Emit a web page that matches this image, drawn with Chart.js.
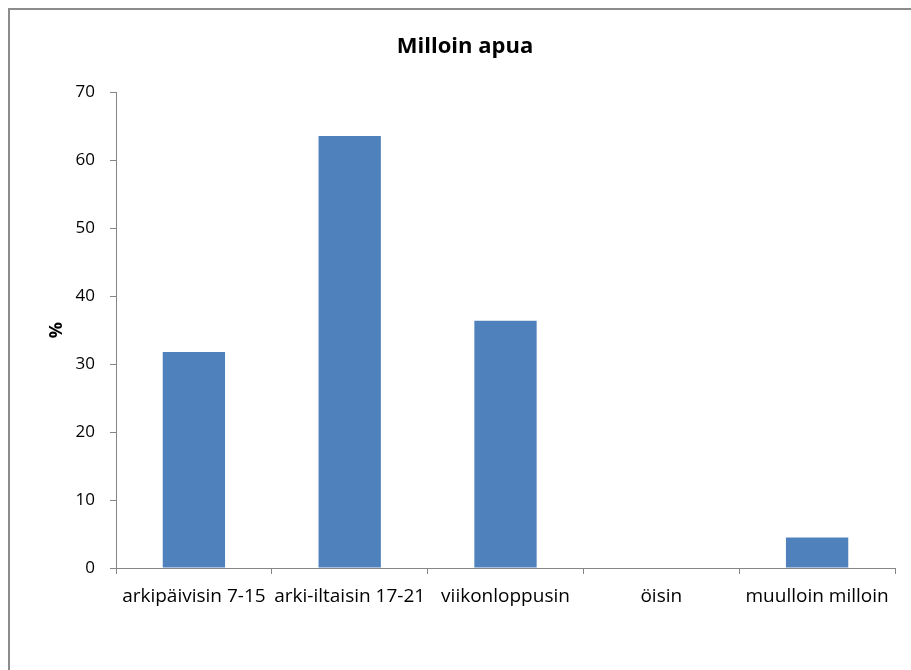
<!DOCTYPE html>
<html lang="fi">
<head>
    <meta charset="UTF-8">
    <title>Milloin apua</title>
    <script src="https://cdn.jsdelivr.net/npm/chart.js"></script>
    <style>
        body { margin: 0; background: #fff; }
        .kehys {
            position: absolute;
            left: 8px;
            top: 8px;
            width: 901px;
            height: 660px;
            border-left: 2px solid #8c8c8c;
            border-top: 2px solid #8c8c8c;
        }
    </style>
</head>
<body>

    <div class="kehys">
        <canvas id="kaavio" width="901" height="660"></canvas>
    </div>

<script>
    // tiedot
    const kategoriat = ['arkipäivisin 7-15', 'arki-iltaisin 17-21', 'viikonloppusin', 'öisin', 'muulloin milloin'];
    const prosentit = [31.8, 63.6, 36.4, 0, 4.5];
    const otsikko = 'Milloin apua';
    const yAkseliOtsikko = '%';
    const yMin = 0, yMax = 70, yAskel = 10;

    const fontti = "'Open Sans', 'Liberation Sans', sans-serif";
    const harmaa = '#868686';

    const ctx = document.getElementById('kaavio').getContext('2d');

    new Chart(ctx, {
        type: 'bar',
        data: {
            labels: kategoriat,
            datasets: [{
                label: otsikko,
                data: prosentit,
                backgroundColor: '#4f81bd',
                borderWidth: 0,
                categoryPercentage: 1,
                barPercentage: 0.4
            }]
        },
        options: {
            responsive: false,
            animation: false,
            // vasen täyte siirtää otsikon keskelle kuten alkuperäisessä
            layout: { padding: { left: 25, right: 16, top: 0, bottom: 0 } },
            plugins: {
                legend: { display: false },
                tooltip: { enabled: false },
                title: {
                    display: true,
                    text: otsikko,
                    color: '#000',
                    font: { family: fontti, size: 22, weight: 'bold' },
                    padding: { top: 24, bottom: 32 }
                }
            },
            scales: {
                x: {
                    grid: {
                        display: true,
                        drawOnChartArea: false,
                        tickLength: 6,
                        color: harmaa,
                        offset: true
                    },
                    border: { color: harmaa, width: 1 },
                    ticks: {
                        color: '#000',
                        font: { family: fontti, size: 19 },
                        padding: 11,
                        autoSkip: false,
                        maxRotation: 0
                    },
                    afterFit: function (scale) { scale.height = 102; }
                },
                y: {
                    min: yMin,
                    max: yMax,
                    grid: {
                        display: true,
                        drawOnChartArea: false,
                        tickLength: 6,
                        color: harmaa
                    },
                    border: { color: harmaa, width: 1 },
                    ticks: {
                        stepSize: yAskel,
                        color: '#000',
                        font: { family: fontti, size: 17 },
                        padding: 15
                    },
                    title: {
                        display: true,
                        text: yAkseliOtsikko,
                        color: '#000',
                        font: { family: fontti, size: 18, weight: 'bold' },
                        padding: { top: 11, bottom: 0 }
                    },
                    afterFit: function (scale) { scale.width = 81; }
                }
            }
        }
    });
</script>
</body>
</html>
